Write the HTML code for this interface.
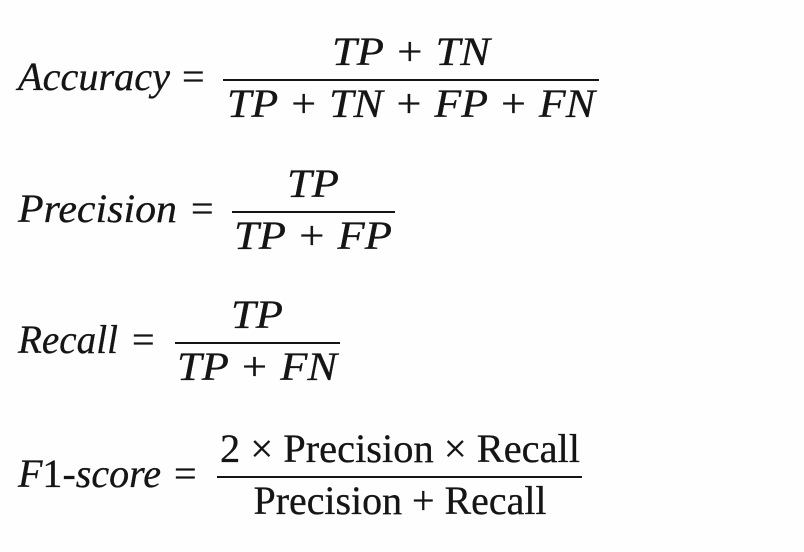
<!DOCTYPE html>
<html><head><meta charset="utf-8"><style>
html,body{margin:0;padding:0;background:#fefefe;}
svg{display:block;}
text{font-family:"Liberation Serif",serif;font-size:40px;fill:#151515;stroke:#151515;stroke-width:0.3;}
.i{font-style:italic;}
</style></head><body>
<svg width="804" height="552" viewBox="0 0 804 552">
<g>
<text class="i" x="18" y="90" textLength="152" lengthAdjust="spacingAndGlyphs">Accuracy</text>
<text x="182" y="90">=</text>
<text class="i" x="411" y="65" text-anchor="middle" textLength="158" lengthAdjust="spacingAndGlyphs">TP + TN</text>
<line x1="223" y1="80" x2="599" y2="80" stroke="#151515" stroke-width="2"/>
<text class="i" x="411" y="117" text-anchor="middle" textLength="368" lengthAdjust="spacingAndGlyphs">TP + TN + FP + FN</text>
</g>
<g>
<text class="i" x="18" y="222" textLength="159" lengthAdjust="spacingAndGlyphs">Precision</text>
<text x="191" y="222">=</text>
<text class="i" x="313" y="197" text-anchor="middle" textLength="52" lengthAdjust="spacingAndGlyphs">TP</text>
<line x1="232" y1="212" x2="395" y2="212" stroke="#151515" stroke-width="2"/>
<text class="i" x="313" y="249" text-anchor="middle" textLength="158" lengthAdjust="spacingAndGlyphs">TP + FP</text>
</g>
<g>
<text class="i" x="18" y="353" textLength="100" lengthAdjust="spacingAndGlyphs">Recall</text>
<text x="132" y="353">=</text>
<text class="i" x="257" y="328" text-anchor="middle" textLength="52" lengthAdjust="spacingAndGlyphs">TP</text>
<line x1="175" y1="343" x2="340" y2="343" stroke="#151515" stroke-width="2"/>
<text class="i" x="257" y="380" text-anchor="middle" textLength="160" lengthAdjust="spacingAndGlyphs">TP + FN</text>
</g>
<g>
<text x="18" y="487" textLength="143" lengthAdjust="spacingAndGlyphs"><tspan class="i">F</tspan>1-<tspan class="i">score</tspan></text>
<text x="174" y="487">=</text>
<text x="400" y="462" text-anchor="middle" textLength="360" lengthAdjust="spacingAndGlyphs">2 × Precision × Recall</text>
<line x1="217" y1="477" x2="582" y2="477" stroke="#151515" stroke-width="2"/>
<text x="400" y="514" text-anchor="middle" textLength="293" lengthAdjust="spacingAndGlyphs">Precision + Recall</text>
</g>
</svg>
</body></html>
